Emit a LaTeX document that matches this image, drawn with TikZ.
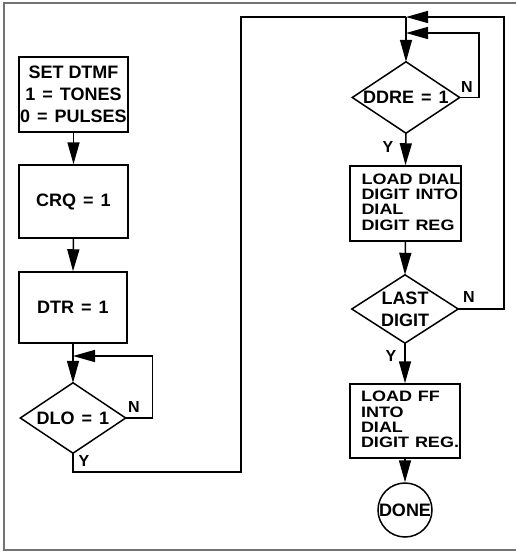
\documentclass[tikz,border=0pt]{standalone}
\usepackage{fontspec}
\setmainfont{Liberation Sans}
\usetikzlibrary{arrows.meta}
\newcommand{\eqs}{\hspace{7pt}=\hspace{7pt}}
\begin{document}
\begin{tikzpicture}[x=1pt,y=-1pt,
  every node/.style={font=\fontsize{18}{21.7}\selectfont\bfseries, inner sep=0pt},
  frame/.style={draw=black!55, line width=1.1pt},
  line/.style={draw=black, line width=1.5pt},
  arr/.style={line, -{Triangle[length=22pt,width=12pt]}},
  stepbox/.style={draw=black, line width=1.5pt, align=center},
  ldbox/.style={draw=black, line width=1.5pt, align=left, text width=88pt, inner xsep=11.5pt},
  decbox/.style={align=center},
  lbl/.style={font=\fontsize{16}{16}\selectfont\bfseries}
]
\useasboundingbox (0,0) rectangle (516,552);
\draw[frame] (516,3) -- (4,3) -- (4,550) -- (516,550);

% left column
\node[stepbox, minimum width=109pt, minimum height=75pt] (set) at (73.5,94.5)
  {SET DTMF\\1\eqs TONES\\0\eqs PULSES};
\node[stepbox, minimum width=109pt, minimum height=73pt] (crq) at (73.5,201.5) {CRQ\eqs 1};
\node[stepbox, minimum width=108pt, minimum height=71pt] (dtr) at (73,307.5) {DTR\eqs 1};
\node[decbox, minimum width=105pt, minimum height=70pt] (dlo) at (73,418) {DLO\eqs 1};
\draw[line, line join=miter] (dlo.north) -- (dlo.east) -- (dlo.south) -- (dlo.west) -- cycle;
\coordinate (j1) at (73,356);

\draw[arr] (set.south) -- (crq.north);
\draw[arr] (crq.south) -- (dtr.north);
\draw[arr] (dtr.south) -- (dlo.north);
\draw[arr] (dlo.east) -- ++(27,0) |- (j1);
\node[lbl] (n1) at (134,407) {N};
\node[lbl] (y1) at (84,461) {Y};

% right column
\coordinate (t1) at (406,17);
\coordinate (t2) at (406,33);
\node[decbox, minimum width=107pt, minimum height=71pt] (ddre) at (406,97.5) {DDRE\eqs 1};
\draw[line, line join=miter] (ddre.north) -- (ddre.east) -- (ddre.south) -- (ddre.west) -- cycle;
\node[ldbox, minimum height=75pt] (ld) at (405.5,203.5)
  {\scalebox{1}[0.84]{\begin{tabular}{@{}l@{}}LOAD DIAL\\[-3.5pt]DIGIT INTO\\[-3.5pt]DIAL\\[-3.5pt]DIGIT REG\end{tabular}}};
\node[decbox, minimum width=106pt, minimum height=68pt] (last) at (405,309) {LAST\\DIGIT};
\draw[line, line join=miter] (last.north) -- (last.east) -- (last.south) -- (last.west) -- cycle;
\node[ldbox, minimum height=74pt, inner xsep=11pt] (lff) at (405,421)
  {\scalebox{1}[0.84]{\begin{tabular}{@{}l@{}}LOAD FF\\[-3.5pt]INTO\\[-3.5pt]DIAL\\[-3.5pt]DIGIT REG.\end{tabular}}};
\node[circle, draw=black, line width=1.5pt, minimum size=54pt] (done) at (405,510) {DONE};

\draw[line] (dlo.south) -- (73,472) -| (241,17) -- (t1);
\draw[arr] (last.east) -- (504,309) |- (t1);
\draw[arr] (ddre.east) -- (479,97.5) |- (t2);
\draw[arr] (t1) -- (ddre.north);
\draw[arr] (ddre.south) -- (ld.north);
\draw[arr] (ld.south) -- (last.north);
\draw[arr] (last.south) -- (lff.north);
\draw[arr] (lff.south) -- (done.north);

\node[lbl] (n2) at (467,87) {N};
\node[lbl] (y2) at (388,147) {Y};
\node[lbl] (n3) at (469,297) {N};
\node[lbl] (y3) at (391,356) {Y};
\end{tikzpicture}
\end{document}
